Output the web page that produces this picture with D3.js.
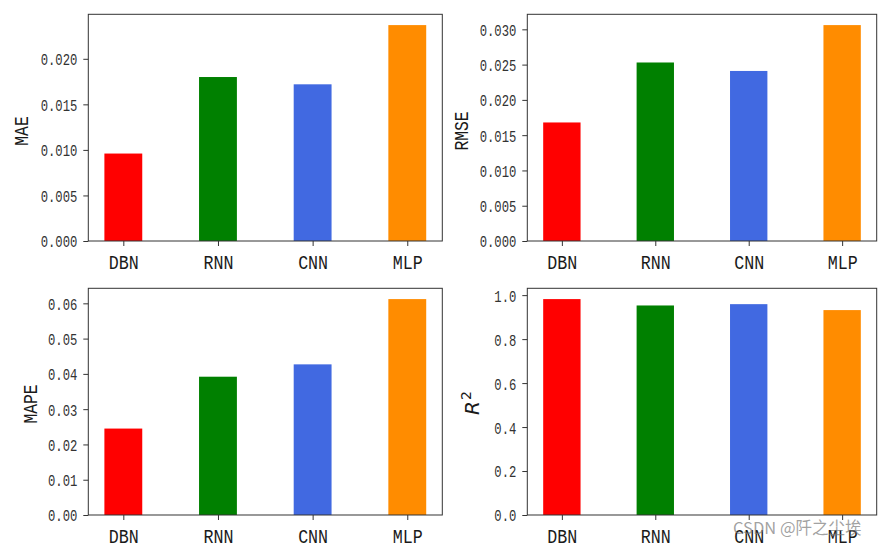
<!DOCTYPE html>
<html>
<head>
<meta charset="utf-8">
<script src="https://cdn.jsdelivr.net/npm/d3@7"></script>
<style>
  html, body { margin: 0; padding: 0; background: #fff; }
  svg { display: block; }
</style>
</head>
<body>
<svg id="chart" width="887" height="551"></svg>
<script>
// ---- data ----
const categories = ["DBN", "RNN", "CNN", "MLP"];
const colors = ["#ff0000", "#008000", "#4169e1", "#ff8c00"];
const maeValues  = [0.0096, 0.0180, 0.0172, 0.0237];
const rmseValues = [0.0168, 0.0253, 0.0241, 0.0306];
const mapeValues = [0.0245, 0.0392, 0.0427, 0.0612];
const r2Values   = [0.982, 0.953, 0.959, 0.932];
const maeTicks  = [0, 0.005, 0.010, 0.015, 0.020];
const rmseTicks = [0, 0.005, 0.010, 0.015, 0.020, 0.025, 0.030];
const mapeTicks = [0, 0.01, 0.02, 0.03, 0.04, 0.05, 0.06];
const r2Ticks   = [0, 0.2, 0.4, 0.6, 0.8, 1.0];

const svg = d3.select("#chart");
const MONO = "'Liberation Mono', 'DejaVu Sans Mono', monospace";

const panels = [
  { values: maeValues,  ticks: maeTicks,  fmt: ".3f", label: "MAE",  x0: 88.3,  y0: 14.3,  w: 354,   h: 226.7, lx: 28,  ly: 131 },
  { values: rmseValues, ticks: rmseTicks, fmt: ".3f", label: "RMSE", x0: 527.3, y0: 14.3,  w: 349.4, h: 226.7, lx: 468, ly: 131 },
  { values: mapeValues, ticks: mapeTicks, fmt: ".2f", label: "MAPE", x0: 88.3,  y0: 288.3, w: 354,   h: 226.7, lx: 36.5, ly: 404 },
  { values: r2Values,   ticks: r2Ticks,   fmt: ".1f", label: "R2",   x0: 527.3, y0: 288.3, w: 349.4, h: 226.7, lx: 479, ly: 403 }
];

const tickCharW = 7.33, tickFont = 16.5;
const labCharW = 10, labFont = 21;

panels.forEach(p => {
  const g = svg.append("g").attr("transform", `translate(${p.x0},${p.y0})`);
  const x = d3.scaleLinear().domain([-0.37, 3.37]).range([0, p.w]);
  const ymax = d3.max(p.values) * 1.05;
  const y = d3.scaleLinear().domain([0, ymax]).range([p.h, 0]);
  const bw = x(0.4) - x(0);

  g.selectAll("rect.bar").data(p.values).enter().append("rect")
    .attr("class", "bar")
    .attr("x", (d, i) => x(i) - bw / 2)
    .attr("width", bw)
    .attr("y", d => y(d))
    .attr("height", d => y(0) - y(d))
    .attr("fill", (d, i) => colors[i]);

  // y axis
  const yAxis = d3.axisLeft(y).tickValues(p.ticks).tickSize(5).tickPadding(6)
    .tickFormat(d3.format(p.fmt));
  const ya = g.append("g").call(yAxis);
  ya.select(".domain").remove();
  ya.selectAll(".tick line").attr("stroke", "#333").attr("stroke-width", 1);
  ya.selectAll(".tick text")
    .attr("font-family", MONO).attr("font-size", tickFont).attr("fill", "#333")
    .attr("dy", "0.36em")
    .attr("x", -11)
    .each(function () {
      const t = d3.select(this);
      t.attr("textLength", t.text().length * tickCharW).attr("lengthAdjust", "spacingAndGlyphs");
    });

  // x axis
  const xAxis = d3.axisBottom(x).tickValues(d3.range(categories.length)).tickSize(5).tickPadding(6)
    .tickFormat(i => categories[i]);
  const xa = g.append("g").attr("transform", `translate(0,${p.h})`).call(xAxis);
  xa.select(".domain").remove();
  xa.selectAll(".tick line").attr("stroke", "#333").attr("stroke-width", 1);
  xa.selectAll(".tick text")
    .attr("font-family", MONO).attr("font-size", labFont).attr("fill", "#1a1a1a")
    .attr("y", 27.5).attr("dy", 0)
    .each(function () {
      const t = d3.select(this);
      t.attr("textLength", t.text().length * labCharW).attr("lengthAdjust", "spacingAndGlyphs");
    });

  // frame
  g.append("rect").attr("x", 0).attr("y", 0).attr("width", p.w).attr("height", p.h)
    .attr("fill", "none").attr("stroke", "#333").attr("stroke-width", 1);

  // y label
  const lab = svg.append("text")
    .attr("transform", `translate(${p.lx},${p.ly}) rotate(-90)`)
    .attr("text-anchor", "middle").attr("fill", "#1a1a1a");
  if (p.label === "R2") {
    lab.attr("font-family", "'DejaVu Sans', sans-serif").attr("font-size", 20);
    lab.append("tspan").attr("font-style", "italic").text("R");
    lab.append("tspan").attr("font-size", 14).attr("dy", -8).attr("dx", 1).text("2");
  } else {
    lab.attr("font-family", MONO).attr("font-size", labFont)
      .attr("textLength", p.label.length * 9.8).attr("lengthAdjust", "spacingAndGlyphs")
      .text(p.label);
  }
});

// watermark (overlaps the last axis labels, as in the source image)
svg.append("text")
  .attr("x", 733).attr("y", 534)
  .attr("font-family", "'Noto Sans CJK SC', sans-serif")
  .attr("font-size", 16.5)
  .attr("fill", "rgba(120,120,120,0.7)")
  .text("CSDN @阡之尘埃");
</script>
</body>
</html>
